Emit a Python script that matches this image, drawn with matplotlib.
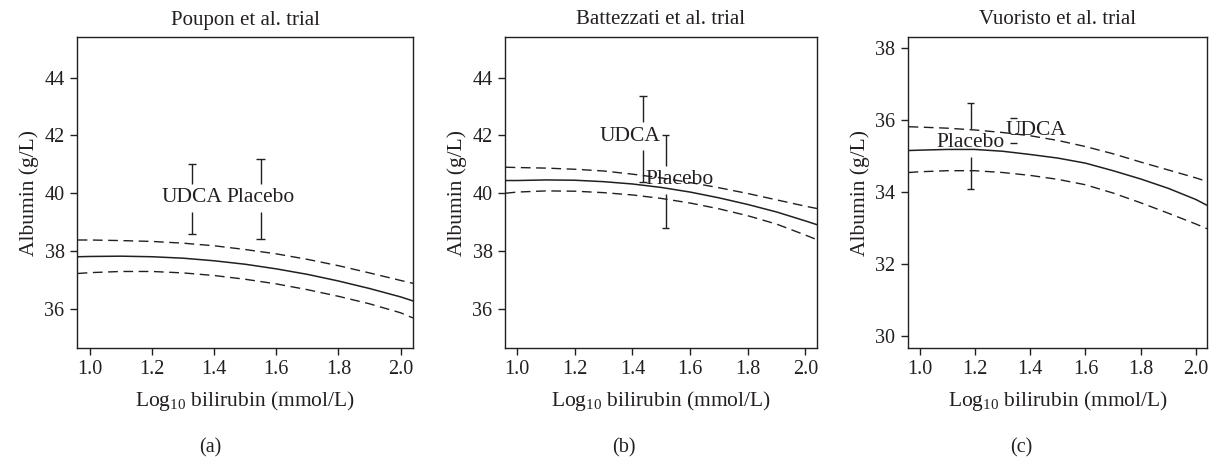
import matplotlib
matplotlib.use('Agg')
import matplotlib.pyplot as plt

plt.rcParams['font.family'] = ['Liberation Serif', 'DejaVu Serif']
plt.rcParams['mathtext.fontset'] = 'custom'
plt.rcParams['mathtext.rm'] = 'Liberation Serif'
plt.rcParams['mathtext.it'] = 'Liberation Serif:italic'
ink = '#231f20'

# log10 bilirubin grid where the fitted curves were read
x_grid = [0.96, 1.0, 1.1, 1.2, 1.3, 1.4, 1.5, 1.6, 1.7, 1.8, 1.9, 2.0, 2.04]

# (a) Poupon et al.
fit_a = [37.80, 37.81, 37.82, 37.80, 37.75, 37.66, 37.54, 37.38, 37.19, 36.96, 36.70, 36.41, 36.27]
upper_a = [38.38, 38.38, 38.36, 38.33, 38.27, 38.18, 38.05, 37.90, 37.71, 37.49, 37.24, 36.98, 36.88]
lower_a = [37.22, 37.25, 37.29, 37.29, 37.24, 37.15, 37.02, 36.86, 36.66, 36.43, 36.17, 35.86, 35.68]

# (b) Battezzati et al.
fit_b = [40.44, 40.44, 40.46, 40.45, 40.40, 40.32, 40.20, 40.04, 39.84, 39.61, 39.35, 39.04, 38.91]
upper_b = [40.90, 40.89, 40.87, 40.83, 40.77, 40.66, 40.53, 40.37, 40.19, 39.99, 39.77, 39.55, 39.47]
lower_b = [40.00, 40.04, 40.08, 40.07, 40.02, 39.94, 39.82, 39.66, 39.46, 39.22, 38.93, 38.55, 38.39]

# (c) Vuoristo et al.
fit_c = [35.16, 35.17, 35.19, 35.19, 35.14, 35.05, 34.95, 34.81, 34.60, 34.37, 34.11, 33.80, 33.64]
upper_c = [35.82, 35.81, 35.78, 35.73, 35.66, 35.57, 35.44, 35.27, 35.07, 34.84, 34.62, 34.40, 34.30]
lower_c = [34.55, 34.57, 34.60, 34.60, 34.55, 34.47, 34.36, 34.21, 33.98, 33.71, 33.42, 33.12, 32.99]

# observed group means with intervals: label, bilirubin, mean, low, high
groups = ['UDCA', 'Placebo']
bili_a = [1.327, 1.549]
mean_a = [39.85, 39.85]
lo_a = [38.6, 38.4]
hi_a = [41.0, 41.2]
bili_b = [1.436, 1.515]
mean_b = [41.98, 40.46]
lo_b = [40.40, 38.81]
hi_b = [43.38, 42.0]
bili_c = [1.34, 1.185]
mean_c = [35.71, 35.38]
lo_c = [35.38, 34.10]
hi_c = [36.06, 36.49]

titles = ['Poupon et al. trial', 'Battezzati et al. trial', 'Vuoristo et al. trial']
panel_tags = ['(a)', '(b)', '(c)']
x_ticks = [1.0, 1.2, 1.4, 1.6, 1.8, 2.0]

panels = [
    (fit_a, upper_a, lower_a, bili_a, mean_a, lo_a, hi_a, [36, 38, 40, 42, 44], (34.64, 45.41), [0, 0]),
    (fit_b, upper_b, lower_b, bili_b, mean_b, lo_b, hi_b, [36, 38, 40, 42, 44], (34.64, 45.41), [-0.045, 0.05]),
    (fit_c, upper_c, lower_c, bili_c, mean_c, lo_c, hi_c, [30, 32, 34, 36, 38], (29.68, 38.31), [0.08, 0]),
]

W, H = 1214, 463
fig = plt.figure(figsize=(W / 100, H / 100), dpi=100)

# axes boxes in pixels: left, right
boxes = [(77, 413), (505, 817), (908, 1207)]
top_px, bottom_px = 37, 348
tag_x = [210, 624, 1021]

for i, (fit, up, low, bx, mu, lo, hi, yt, ylim, lab_dx) in enumerate(panels):
    l, r = boxes[i]
    ax = fig.add_axes([l / W, 1 - bottom_px / H, (r - l) / W, (bottom_px - top_px) / H])
    ax.plot(x_grid, fit, color=ink, lw=1.1)
    ax.plot(x_grid, up, color=ink, lw=1.0, dashes=(7, 4))
    ax.plot(x_grid, low, color=ink, lw=1.0, dashes=(7, 4))

    # gap in the bar around the label, about 14 px each side
    gap = 14 * (ylim[1] - ylim[0]) / (bottom_px - top_px)
    cap = 0.013
    for k, g in enumerate(groups):
        if hi[k] > mu[k] + gap:
            ax.vlines(bx[k], mu[k] + gap, hi[k], color=ink, lw=1.0)
        if lo[k] < mu[k] - gap:
            ax.vlines(bx[k], lo[k], mu[k] - gap, color=ink, lw=1.0)
        ax.hlines([lo[k], hi[k]], bx[k] - cap, bx[k] + cap, color=ink, lw=1.0)
        ax.text(bx[k] + lab_dx[k], mu[k], g, ha='center', va='center', fontsize=15.5, color=ink)

    ax.set_xlim(0.958, 2.04)
    ax.set_ylim(*ylim)
    ax.set_xticks(x_ticks)
    ax.set_xticklabels(['%.1f' % v for v in x_ticks])
    ax.set_yticks(yt)
    ax.tick_params(direction='out', length=5, width=1, labelsize=14.5, pad=4, colors=ink)
    for s in ax.spines.values():
        s.set_linewidth(1.0)
        s.set_color(ink)
    ax.set_title(titles[i], fontsize=15, pad=9, color=ink)
    ax.set_xlabel('Log$_{10}$ bilirubin (mmol/L)', fontsize=15.5, labelpad=7, color=ink)
    ax.set_ylabel('Albumin (g/L)', fontsize=15.5, labelpad=4, color=ink)
    fig.text(tag_x[i] / W, 1 - 448 / H, panel_tags[i], ha='center', va='center', fontsize=14.5, color=ink)

fig.savefig('out.png', dpi=100)
